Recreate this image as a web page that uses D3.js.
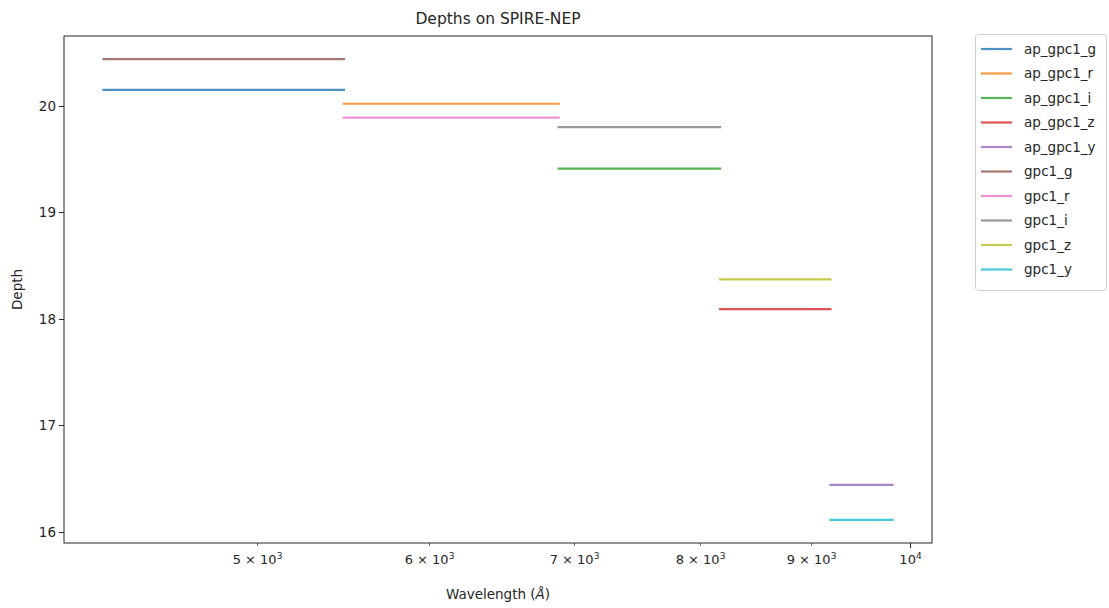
<!DOCTYPE html>
<html>
<head>
<meta charset="utf-8">
<script src="https://cdn.jsdelivr.net/npm/d3@7"></script>
<style>
  body { margin: 0; background: #fff; }
  text { font-family: "DejaVu Sans", sans-serif; fill: #262626; }
</style>
</head>
<body>
<svg id="chart" width="1109" height="608"></svg>
<script>
// ---- data ----
const seriesNames = ["ap_gpc1_g","ap_gpc1_r","ap_gpc1_i","ap_gpc1_z","ap_gpc1_y","gpc1_g","gpc1_r","gpc1_i","gpc1_z","gpc1_y"];
const bandStart = [4250, 5485, 6888, 8175, 9190, 4250, 5485, 6888, 8175, 9190];
const bandEnd   = [5485, 6888, 8175, 9190, 9816, 5485, 6888, 8175, 9190, 9816];
const depths    = [20.15, 20.02, 19.41, 18.09, 16.44, 20.44, 19.89, 19.80, 18.37, 16.11];
const colors = ["#1f77b4","#ff7f0e","#2ca02c","#d62728","#9467bd","#8c564b","#e377c2","#7f7f7f","#bcbd22","#17becf"];
const xTicks = [5000, 6000, 7000, 8000, 9000, 10000];
const xTickMantissa = ["5","6","7","8","9",""];
const yTicks = [16, 17, 18, 19, 20];

// ---- layout ----
const svg = d3.select("#chart");
const L = 64, R = 932, T = 36, B = 543;

const lx0 = Math.log10(d3.min(bandStart)), lx1 = Math.log10(d3.max(bandEnd));
const lpad = (lx1 - lx0) * 0.05;
const x = d3.scaleLog().domain([Math.pow(10, lx0 - lpad), Math.pow(10, lx1 + lpad)]).range([L, R]);
const y0 = d3.min(depths), y1 = d3.max(depths), ypad = (y1 - y0) * 0.05;
const y = d3.scaleLinear().domain([y0 - ypad, y1 + ypad]).range([B, T]);

// lines
const g = svg.append("g");
seriesNames.forEach((n, i) => {
  g.append("line")
    .attr("x1", x(bandStart[i])).attr("x2", x(bandEnd[i]))
    .attr("y1", y(depths[i])).attr("y2", y(depths[i]))
    .attr("stroke", colors[i]).attr("stroke-width", 2.2)
    .attr("stroke-opacity", 0.8).attr("stroke-linecap", "square");
});

// frame
svg.append("rect").attr("x", L).attr("y", T).attr("width", R - L).attr("height", B - T)
  .attr("fill", "none").attr("stroke", "#262626").attr("stroke-width", 1);

// x axis
const xa = svg.append("g").attr("transform", `translate(0,${B})`);
xTicks.forEach((t, i) => {
  const px = Math.round(x(t)) + 0.5;
  const major = (t === 10000);
  xa.append("line").attr("x1", px).attr("x2", px).attr("y1", 0).attr("y2", major ? 5 : 3)
    .attr("stroke", "#262626").attr("stroke-width", major ? 1 : 0.7);
  const txt = xa.append("text").attr("x", px).attr("y", 21).attr("text-anchor", "middle")
    .attr("font-size", 13);
  if (major) {
    txt.append("tspan").text("10");
    txt.append("tspan").attr("dy", -5).attr("font-size", 9).text("4");
  } else {
    txt.append("tspan").text(xTickMantissa[i] + " \u00d7 10");
    txt.append("tspan").attr("dy", -5).attr("font-size", 9).text("3");
  }
});
svg.append("text").attr("x", (L + R) / 2).attr("y", 599).attr("text-anchor", "middle")
  .attr("font-size", 13.5)
  .call(t => { t.append("tspan").text("Wavelength ("); t.append("tspan").attr("font-style", "italic").text("\u00c5"); t.append("tspan").text(")"); });

// y axis
const ya = svg.append("g").attr("transform", `translate(${L},0)`);
yTicks.forEach(t => {
  const py = Math.round(y(t)) + 0.5;
  ya.append("line").attr("x1", 0).attr("x2", -5).attr("y1", py).attr("y2", py).attr("stroke", "#262626");
  ya.append("text").attr("x", -8).attr("y", py).attr("dy", "0.35em").attr("text-anchor", "end")
    .attr("font-size", 13.5).text(t);
});
svg.append("text").attr("transform", `translate(22,${(T + B) / 2}) rotate(-90)`)
  .attr("text-anchor", "middle").attr("font-size", 13.5).text("Depth");

// title
svg.append("text").attr("x", (L + R) / 2).attr("y", 24).attr("text-anchor", "middle")
  .attr("font-size", 15.5).text("Depths on SPIRE-NEP");

// legend
const lg = svg.append("g");
lg.append("rect").attr("x", 975.5).attr("y", 34.5).attr("width", 131).attr("height", 256)
  .attr("rx", 3).attr("fill", "#fff").attr("stroke", "#d0d0d0");
seriesNames.forEach((n, i) => {
  const ly = 49 + i * 24.5;
  lg.append("line").attr("x1", 981).attr("x2", 1012).attr("y1", ly).attr("y2", ly)
    .attr("stroke", colors[i]).attr("stroke-width", 2.2).attr("stroke-opacity", 0.8);
  lg.append("text").attr("x", 1024).attr("y", ly).attr("dy", "0.35em").attr("font-size", 13.5).text(n);
});
</script>
</body>
</html>
